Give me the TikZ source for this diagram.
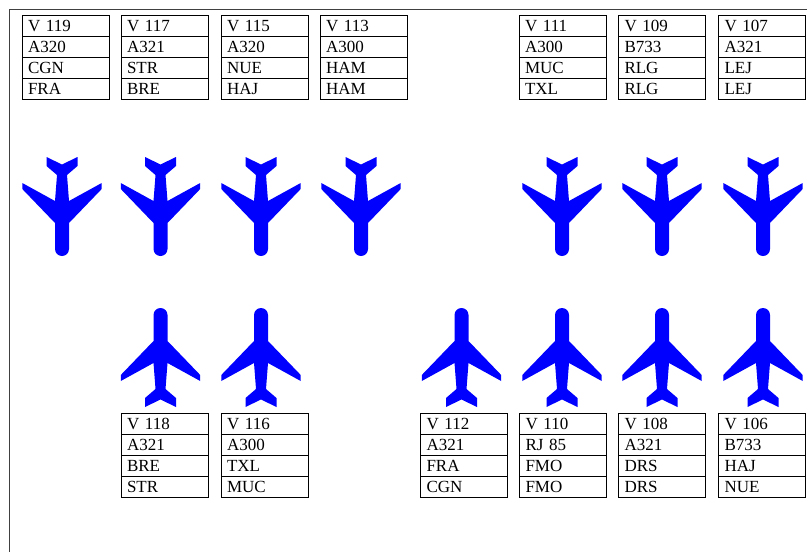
\documentclass[tikz,border=0pt]{standalone}
\usepackage{fontspec}
\setmainfont{Liberation Serif}
\tikzset{
  x=1pt,y=-1pt,
  cellbox/.style={draw=black,line width=1pt,minimum width=87pt,minimum height=21pt,inner sep=0pt,outer sep=0pt,anchor=north west,text width=81pt,align=left,font=\fontsize{17}{17}\selectfont},
  frameline/.style={draw=black!75,line width=1.2pt},
  planefill/.style={fill=blue,draw=none},
}
% plane pointing down: tail at y=0, nose at y=99, centred on x=0
\newcommand{\planeshape}{
  (-15.5,0) -- (0,7.5) -- (15.5,0) -- (15.5,9) -- (5,18) -- (7,44) -- (39.7,26) -- (39.7,32)
  -- (7,66) -- (7,92) arc[start angle=0,end angle=-180,radius=7,y radius=-7] -- (-7,66)
  -- (-39.7,32) -- (-39.7,26) -- (-7,44) -- (-5,18) -- (-15.5,9) -- cycle}
\newcommand{\planedown}[1]{\path[planefill,shift={(#1,157)}] \planeshape;}
\newcommand{\planeup}[1]{\path[planefill,shift={(#1,407)},yscale=-1] \planeshape;}
\newcommand{\celltext}[1]{\hspace*{3pt}\strut\smash{\raisebox{-2.6pt}{#1}}}
\newcommand{\flighttable}[7]{%
  \node[cellbox] (#3a) at (#1,#2) {\celltext{#4}};
  \node[cellbox] (#3b) at (#1,#2+21) {\celltext{#5}};
  \node[cellbox] (#3c) at (#1,#2+42) {\celltext{#6}};
  \node[cellbox] (#3d) at (#1,#2+63) {\celltext{#7}};
}
\begin{document}
\begin{tikzpicture}
\useasboundingbox (0,0) rectangle (807,552);
\coordinate (fa) at (9.5,552);
\coordinate (fb) at (9.5,9.5);
\coordinate (fc) at (807,9.5);
\draw[frameline] (fa) -- (fb) -- (fc);
\flighttable{22}{15.3}{t119}{V 119}{A320}{CGN}{FRA}
\flighttable{121}{15.3}{t117}{V 117}{A321}{STR}{BRE}
\flighttable{221}{15.3}{t115}{V 115}{A320}{NUE}{HAJ}
\flighttable{320}{15.3}{t113}{V 113}{A300}{HAM}{HAM}
\flighttable{519}{15.3}{t111}{V 111}{A300}{MUC}{TXL}
\flighttable{618.5}{15.3}{t109}{V 109}{B733}{RLG}{RLG}
\flighttable{718.5}{15.3}{t107}{V 107}{A321}{LEJ}{LEJ}
\flighttable{121}{413.3}{t118}{V 118}{A321}{BRE}{STR}
\flighttable{221}{413.3}{t116}{V 116}{A300}{TXL}{MUC}
\flighttable{420.5}{413.3}{t112}{V 112}{A321}{FRA}{CGN}
\flighttable{519.5}{413.3}{t110}{V 110}{RJ 85}{FMO}{FMO}
\flighttable{618.5}{413.3}{t108}{V 108}{A321}{DRS}{DRS}
\flighttable{718.5}{413.3}{t106}{V 106}{B733}{HAJ}{NUE}
\foreach \c in {62,160.5,261,361,562,662,763} {\planedown{\c}}
\foreach \c in {160.5,261,461.5,562,662,763} {\planeup{\c}}
\end{tikzpicture}
\end{document}
